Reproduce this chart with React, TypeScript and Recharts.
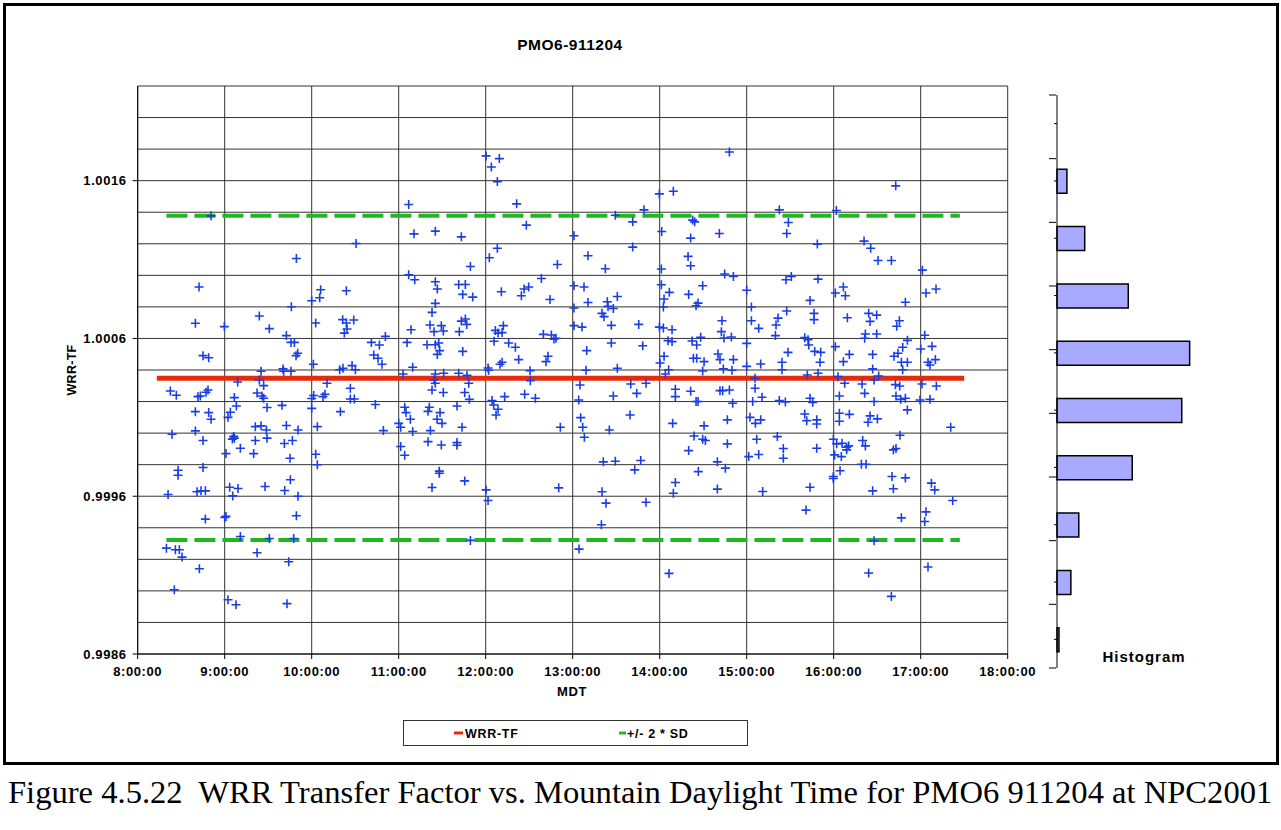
import React from 'react';
import { ComposedChart, Scatter, Line, XAxis, YAxis, CartesianGrid, BarChart, Bar } from 'recharts';

// axis layout
const hourTicks = [8, 9, 10, 11, 12, 13, 14, 15, 16, 17, 18];
const wrrTicks = [0.9986, 0.9996, 1.0006, 1.0016];
const wrrGridLines = [
  0.9986, 0.9988, 0.999, 0.9992, 0.9994, 0.9996, 0.9998, 1.0, 1.0002, 1.0004,
  1.0006, 1.0008, 1.001, 1.0012, 1.0014, 1.0016, 1.0018, 1.002, 1.0022,
];

// run mean and the +/- 2 SD band
const meanTrace = [{ t: 8.22, v: 1.000347 }, { t: 17.5, v: 1.000347 }];
const upperTrace = [{ t: 8.33, v: 1.001378 }, { t: 17.45, v: 1.001378 }];
const lowerTrace = [{ t: 8.33, v: 0.999322 }, { t: 17.45, v: 0.999322 }];

// histogram of the transfer factor (top bin first)
const histBins = ['1.0019', '1.0016', '1.0012', '1.0009', '1.0005', '1.0001', '0.9998', '0.9994', '0.9991', '0.9987'];
const histCounts = [0, 5, 14, 36, 67, 63, 38, 11, 7, 1];
const histEdges = [0, 1, 2, 3, 4, 5, 6, 7, 8, 9, 10];

// individual WRR-TF readings: [hour of day MDT, WRR-TF]
const samples: [number, number][] = [
  [8.843, 1.001377], [9.824, 1.001107], [8.705, 1.000926], [10.103, 1.000909], [10.398, 1.000902], [10.092, 1.000858],
  [10.0, 1.000839], [9.766, 1.000801], [9.398, 1.000742], [8.663, 1.000696], [8.996, 1.000675], [9.513, 1.000662],
  [10.046, 1.000698], [10.356, 1.000719], [10.398, 1.000698], [10.483, 1.000717], [10.406, 1.00066], [10.375, 1.000634],
  [9.709, 1.000618], [9.762, 1.000575], [9.801, 1.000575], [9.839, 1.000506], [9.82, 1.000491], [8.751, 1.000491],
  [8.816, 1.000478], [10.019, 1.000436], [9.418, 1.000392], [9.67, 1.000407], [9.678, 1.000392], [9.762, 1.000392],
  [10.322, 1.000402], [10.36, 1.000411], [10.464, 1.000428], [10.502, 1.000402], [10.51, 1.001202],
  [9.149, 1.000324], [9.398, 1.000337], [9.448, 1.000301], [10.176, 1.000316], [10.444, 1.000284], [8.375, 1.000267],
  [8.444, 1.00024], [8.693, 1.000231], [8.72, 1.000235], [8.785, 1.000259], [8.808, 1.000273], [9.111, 1.000225],
  [9.372, 1.000254], [9.429, 1.000235], [9.448, 1.000221], [10.0, 1.000219], [10.023, 1.000238], [10.13, 1.000231],
  [10.153, 1.000246], [10.444, 1.000216], [10.49, 1.000216], [8.663, 1.000136], [8.816, 1.00013], [8.843, 1.000088],
  [9.134, 1.000172], [9.065, 1.000132], [9.038, 1.0001], [9.487, 1.000162], [9.659, 1.000176], [10.0, 1.000157],
  [10.33, 1.000136], [8.395, 0.999993], [8.663, 1.000014], [8.751, 0.999953], [9.103, 0.999979], [9.088, 0.999962],
  [9.111, 0.999968], [9.352, 1.000041], [9.418, 1.000046], [9.479, 1.00002], [9.352, 0.999953], [9.487, 0.999968],
  [9.709, 1.000048], [9.843, 1.00002], [9.686, 0.999934], [9.778, 0.999953], [10.065, 1.000041], [9.18, 0.999904],
  [9.015, 0.99987], [9.333, 0.99987], [9.751, 0.999841], [10.046, 0.999866], [10.065, 0.999799], [8.464, 0.999765],
  [8.464, 0.999733], [8.751, 0.999782], [8.349, 0.999611], [8.682, 0.999628], [8.728, 0.999634], [8.778, 0.999634],
  [9.057, 0.999657], [9.153, 0.999649], [9.092, 0.999602], [9.464, 0.999662], [9.755, 0.999704], [9.69, 0.999636],
  [9.843, 0.9996], [8.778, 0.999455], [9.0, 0.999465], [9.015, 0.999472], [9.824, 0.999476], [9.18, 0.999345],
  [9.513, 0.999332], [9.793, 0.999332], [8.33, 0.999271], [8.433, 0.999261], [8.479, 0.999261], [8.51, 0.999214],
  [9.372, 0.999242], [9.736, 0.999185], [8.709, 0.99914], [8.421, 0.999007], [9.038, 0.998944], [9.13, 0.998912],
  [9.716, 0.998919],
  [12.004, 1.001757], [12.157, 1.00174], [12.065, 1.001687], [12.134, 1.001594], [11.115, 1.001449], [12.356, 1.001453],
  [12.467, 1.001318], [11.176, 1.001263], [11.421, 1.00128], [11.72, 1.001244], [12.134, 1.001172], [12.042, 1.001111],
  [11.824, 1.001056], [12.824, 1.001069], [11.115, 1.001004], [11.184, 1.000972], [11.421, 1.000959], [11.444, 1.000913],
  [11.69, 1.000942], [11.766, 1.000942], [11.736, 1.000879], [11.851, 1.000862], [12.18, 1.000896], [12.41, 1.000871],
  [12.441, 1.000913], [12.494, 1.000926], [12.64, 1.00098], [12.739, 1.000847], [11.421, 1.000822], [11.383, 1.000765],
  [11.142, 1.000655], [11.36, 1.000685], [11.406, 1.000643], [11.49, 1.000681], [11.513, 1.000647], [11.697, 1.000643],
  [11.72, 1.00071], [11.766, 1.000723], [11.782, 1.000689], [10.847, 1.000613], [10.686, 1.000575], [10.778, 1.000558],
  [10.713, 1.000495], [10.762, 1.000474], [10.808, 1.000436], [11.096, 1.000575], [11.326, 1.00056], [11.421, 1.00056],
  [11.46, 1.000571], [11.444, 1.000499], [11.471, 1.000523], [11.736, 1.000518], [12.111, 1.000651], [12.203, 1.000681],
  [12.142, 1.000634], [12.188, 1.000637], [12.096, 1.000582], [12.264, 1.000571], [12.341, 1.000544], [12.663, 1.000626],
  [12.755, 1.000622], [12.785, 1.000596], [12.808, 1.000601], [12.716, 1.000487], [12.693, 1.000453], [12.379, 1.000466],
  [12.188, 1.000449], [12.165, 1.000436], [12.027, 1.000413], [11.161, 1.000417], [12.51, 1.000396],
  [11.05, 1.000375], [11.421, 1.000375], [11.517, 1.000379], [11.69, 1.000379], [11.785, 1.000366], [12.034, 1.000398],
  [11.406, 1.000337], [11.421, 1.000316], [11.805, 1.000316], [12.513, 1.000332], [11.383, 1.000273], [11.513, 1.000257],
  [11.759, 1.000257], [11.812, 1.000214], [10.732, 1.000181], [11.069, 1.000164], [11.084, 1.00013], [11.134, 1.000088],
  [11.0, 1.000062], [11.023, 1.000037], [11.337, 1.000138], [11.352, 1.000164], [11.475, 1.00013], [11.441, 1.000088],
  [11.498, 1.000062], [11.67, 1.000172], [12.073, 1.000206], [12.092, 1.000178], [12.142, 1.000151], [12.119, 1.000115],
  [12.218, 1.000231], [12.448, 1.000246], [12.571, 1.000221], [10.824, 1.000016], [11.161, 1.00001], [11.364, 1.000016],
  [11.728, 1.000037], [12.858, 1.000037], [11.023, 0.999915], [11.069, 0.99986], [11.337, 0.999946], [11.49, 0.999925],
  [11.67, 0.99994], [11.67, 0.999923], [11.467, 0.999759], [11.467, 0.999746], [11.759, 0.999697], [11.383, 0.999655],
  [12.004, 0.99964], [12.027, 0.999573], [12.839, 0.999653], [11.824, 0.99932],
  [14.801, 1.001782], [13.996, 1.001516], [14.157, 1.001533], [13.82, 1.001415], [15.375, 1.001415], [13.49, 1.001381],
  [13.69, 1.001339], [14.379, 1.00135], [14.402, 1.001339], [13.015, 1.001251], [14.023, 1.001278], [14.356, 1.001236],
  [14.686, 1.001265], [15.46, 1.001265], [15.479, 1.001335], [13.176, 1.001124], [13.69, 1.001179], [14.326, 1.00112],
  [14.356, 1.001061], [13.375, 1.001042], [14.019, 1.00104], [14.747, 1.001008], [14.847, 1.000993], [15.452, 1.000972],
  [13.015, 1.000934], [13.13, 1.000926], [14.019, 1.00094], [14.111, 1.000892], [14.494, 1.000934], [14.333, 1.000879],
  [15.0, 1.000905], [13.176, 1.000828], [13.398, 1.000833], [13.513, 1.000866], [14.05, 1.00085], [14.042, 1.000799],
  [14.441, 1.000824], [14.418, 1.000807], [13.015, 1.000793], [13.337, 1.000759], [13.36, 1.000738], [13.406, 1.000803],
  [13.467, 1.00079], [15.054, 1.000799], [15.46, 1.000774], [13.015, 1.000681], [13.107, 1.000672], [13.444, 1.000683],
  [13.759, 1.000689], [13.996, 1.000672], [14.042, 1.000666], [14.142, 1.000655], [14.716, 1.000712], [15.054, 1.000712],
  [15.138, 1.000664], [15.337, 1.000685], [15.36, 1.000729], [14.709, 1.000643], [14.739, 1.000603], [14.824, 1.000609],
  [14.471, 1.000607], [15.0, 1.000569], [13.161, 1.000523], [13.444, 1.000571], [13.805, 1.000554], [14.096, 1.000586],
  [14.142, 1.00058], [14.372, 1.000584], [14.425, 1.000558], [15.33, 1.000618], [15.475, 1.000512], [14.05, 1.000487],
  [14.004, 1.000444], [14.387, 1.000474], [14.425, 1.000474], [14.51, 1.000453], [14.67, 1.000501], [14.693, 1.000466],
  [14.847, 1.000466], [15.161, 1.000438], [15.406, 1.000449], [13.153, 1.000398], [13.513, 1.000411], [14.103, 1.000402],
  [14.494, 1.000394], [14.732, 1.000407], [14.831, 1.000398], [15.0, 1.000423], [15.406, 1.000402],
  [14.065, 1.000375], [13.084, 1.000305], [13.667, 1.000311], [13.843, 1.000316], [13.736, 1.000252], [13.467, 1.000235],
  [14.18, 1.000278], [14.18, 1.000231], [14.356, 1.000265], [14.418, 1.0002], [14.441, 1.0002], [14.693, 1.000269],
  [14.724, 1.000269], [14.801, 1.000273], [14.839, 1.000189], [13.069, 1.00021], [15.096, 1.000284], [15.096, 1.000347],
  [15.069, 1.0002], [15.176, 1.000227], [15.375, 1.000206], [15.444, 1.000197], [13.092, 1.000098], [13.115, 1.000037],
  [13.134, 0.999974], [13.421, 1.00002], [13.659, 1.000115], [14.149, 1.000062], [14.51, 1.000046], [14.395, 0.999982],
  [14.494, 0.999961], [14.525, 0.999953], [14.778, 1.000084], [14.778, 0.999932], [15.038, 1.0001], [15.161, 1.000084],
  [15.1, 1.000062], [15.115, 0.999961], [15.352, 0.999978], [14.333, 0.999889], [14.663, 0.999818], [14.755, 0.999778],
  [14.444, 0.999756], [15.023, 0.999851], [15.138, 0.999864], [15.421, 0.999902], [15.421, 0.999841], [13.352, 0.999818],
  [13.49, 0.999822], [13.782, 0.999826], [13.713, 0.999767], [14.18, 0.999687], [14.157, 0.999619], [14.663, 0.999645],
  [15.184, 0.99963], [13.337, 0.999628], [13.383, 0.999556], [13.843, 0.999562], [13.33, 0.999419], [13.073, 0.999265],
  [14.107, 0.999111],
  [16.713, 1.001567], [16.031, 1.001411], [15.812, 1.001198], [16.349, 1.001217], [16.425, 1.001172], [16.51, 1.001094],
  [16.663, 1.001094], [17.019, 1.001033], [15.513, 1.000993], [15.82, 1.000976], [16.111, 1.000926], [16.019, 1.000888],
  [16.134, 1.000871], [17.061, 1.000888], [17.176, 1.000913], [16.824, 1.000829], [15.728, 1.000841], [15.774, 1.000759],
  [15.774, 1.000719], [16.157, 1.000731], [16.402, 1.000759], [16.494, 1.000748], [16.418, 1.000708], [16.755, 1.000712],
  [16.724, 1.000677], [17.046, 1.00062], [17.13, 1.00055], [17.0, 1.000533], [15.667, 1.000605], [15.705, 1.000592],
  [15.713, 1.000558], [15.782, 1.000518], [15.851, 1.000512], [15.843, 1.000449], [16.364, 1.000628], [16.356, 1.000601],
  [16.494, 1.000628], [16.019, 1.000548], [16.18, 1.000499], [16.111, 1.000453], [16.448, 1.000499], [16.693, 1.000487],
  [16.739, 1.000506], [16.793, 1.000544], [16.847, 1.000588], [16.778, 1.000449], [16.847, 1.000449], [17.084, 1.000449],
  [17.169, 1.000466], [17.107, 1.000432], [16.448, 1.000407], [16.793, 1.000402],
  [15.697, 1.000368], [15.82, 1.000379], [16.05, 1.000358], [16.517, 1.000362], [16.126, 1.000316], [16.326, 1.000311],
  [16.464, 1.000337], [16.709, 1.000307], [16.759, 1.000299], [17.015, 1.000311], [17.18, 1.000299], [15.728, 1.000221],
  [15.759, 1.000195], [16.065, 1.000235], [16.356, 1.000252], [16.464, 1.0002], [16.716, 1.000235], [16.77, 1.000214],
  [16.824, 1.000221], [16.992, 1.00021], [17.107, 1.000214], [15.667, 1.000121], [15.69, 1.000079], [15.805, 1.000084],
  [15.805, 1.000058], [16.065, 1.000126], [16.065, 1.000075], [16.18, 1.000119], [16.418, 1.000109], [16.395, 1.000069],
  [16.502, 1.00009], [16.847, 1.000147], [17.345, 1.000037], [15.805, 0.999904], [15.996, 0.999961], [16.034, 0.999932],
  [16.096, 0.999936], [16.149, 0.99991], [16.172, 0.999919], [16.149, 0.999894], [16.011, 0.999862], [16.088, 0.999851],
  [16.333, 0.999953], [16.364, 0.999919], [16.762, 0.999986], [16.686, 0.999894], [16.716, 0.999902], [16.318, 0.999803],
  [16.372, 0.999803], [15.996, 0.999725], [15.996, 0.999712], [16.073, 0.999761], [16.67, 0.999725], [16.824, 0.999716],
  [15.728, 0.999657], [16.448, 0.999634], [16.686, 0.999647], [17.123, 0.999683], [17.161, 0.99964], [17.368, 0.999573],
  [15.682, 0.999512], [16.778, 0.999463], [17.061, 0.999501], [17.046, 0.99944], [16.464, 0.999318], [16.402, 0.999113],
  [17.084, 0.999151], [16.663, 0.998965],
];

const sampleData = samples.map(([t, v]) => ({ t, v }));
const histData = histBins.map((bin, i) => ({ bin, count: histCounts[i] }));

const FONT = '"Liberation Sans", Arial, sans-serif';
const tickStyle = { fill: '#000', fontSize: 13, fontWeight: 700, fontFamily: FONT, letterSpacing: 0.6 };
const blankTick = { fill: 'none', fontSize: 1 };
const noLabel = () => '';

const PlusMark = (props: any) => {
  const { cx, cy } = props;
  if (cx == null || cy == null) return <g />;
  return (
    <path
      d={`M${cx - 4.5},${cy}H${cx + 4.5}M${cx},${cy - 4.5}V${cy + 4.5}`}
      stroke="#1a3ee6"
      strokeWidth={1.6}
      fill="none"
    />
  );
};

const fmtHour = (h: number) => `${h}:00:00`;
const fmtWrr = (v: number) => v.toFixed(4);

export default function App() {
  return (
    <div style={{ position: 'absolute', left: 0, top: 0, width: 1281, height: 830, background: '#fff', fontFamily: FONT }}>
      {/* frame around the chart */}
      <div style={{ position: 'absolute', left: 3, top: 3, width: 1270, height: 756, border: '3px solid #000' }} />

      <div style={{ position: 'absolute', left: 0, top: 0 }}>
        <ComposedChart width={1045} height={720} margin={{ top: 86, right: 37.3, bottom: 36, left: 77.7 }}>
          <CartesianGrid
            stroke="#333"
            strokeWidth={1}
            horizontalValues={wrrGridLines}
            verticalValues={hourTicks}
          />
          <XAxis
            type="number"
            dataKey="t"
            domain={[8, 18]}
            ticks={hourTicks}
            tickFormatter={fmtHour}
            allowDataOverflow
            height={30}
            tickSize={5}
            tickMargin={8}
            axisLine={{ stroke: '#000' }}
            tickLine={{ stroke: '#000' }}
            tick={tickStyle}
            interval={0}
          />
          <YAxis
            type="number"
            dataKey="v"
            domain={[0.9986, 1.0022]}
            ticks={wrrTicks}
            tickFormatter={fmtWrr}
            allowDataOverflow
            width={60}
            tickSize={5}
            tickMargin={6}
            axisLine={{ stroke: '#000' }}
            tickLine={{ stroke: '#000' }}
            tick={tickStyle}
            interval={0}
          />
          <Line data={meanTrace} dataKey="v" stroke="#e42b0c" strokeWidth={5} dot={false} activeDot={false} isAnimationActive={false} />
          <Line data={upperTrace} dataKey="v" stroke="#1fb81f" strokeWidth={4} strokeDasharray="21 7" dot={false} activeDot={false} isAnimationActive={false} />
          <Line data={lowerTrace} dataKey="v" stroke="#1fb81f" strokeWidth={4} strokeDasharray="21 7" dot={false} activeDot={false} isAnimationActive={false} />
          <Scatter data={sampleData} dataKey="v" shape={PlusMark} isAnimationActive={false} />
        </ComposedChart>
      </div>

      <div style={{ position: 'absolute', left: 1000, top: 80 }}>
        <BarChart
          width={260}
          height={600}
          layout="vertical"
          data={histData}
          margin={{ top: 15, right: 5, bottom: 12, left: 55 }}
        >
          <XAxis type="number" domain={[0, 100]} hide />
          <YAxis
            yAxisId="bins"
            type="category"
            dataKey="bin"
            width={1}
            tickSize={3}
            axisLine={{ stroke: '#000' }}
            tickLine={{ stroke: '#000' }}
            tick={blankTick}
            tickFormatter={noLabel}
            interval={0}
          />
          <YAxis
            yAxisId="edges"
            type="number"
            domain={[0, 10]}
            ticks={histEdges}
            width={1}
            tickSize={7}
            axisLine={false}
            tickLine={{ stroke: '#000' }}
            tick={blankTick}
            tickFormatter={noLabel}
            interval={0}
          />
          <Bar yAxisId="bins" dataKey="count" barSize={24} fill="#a8aaff" stroke="#000" strokeWidth={1.5} isAnimationActive={false} />
        </BarChart>
      </div>

      <svg width={1281} height={830} style={{ position: 'absolute', left: 0, top: 0, pointerEvents: 'none' }}>
        <g fontFamily={FONT} fontWeight={700} fill="#000">
          <text x={570} y={50} textAnchor="middle" fontSize={15.5} letterSpacing={0.5}>PMO6-911204</text>
          <text x={76} y={370} textAnchor="middle" fontSize={12.5} letterSpacing={0.3} transform="rotate(-90 76 370)">WRR-TF</text>
          <text x={572} y={696} textAnchor="middle" fontSize={13} letterSpacing={0.6}>MDT</text>
          <text x={1144} y={662} textAnchor="middle" fontSize={15} letterSpacing={1}>Histogram</text>

          {/* legend */}
          <rect x={403.5} y={720.5} width={344} height={25} fill="#fff" stroke="#333" strokeWidth={1} />
          <line x1={454} y1={733} x2={463} y2={733} stroke="#e42b0c" strokeWidth={3} />
          <text x={465} y={738} fontSize={12.5} letterSpacing={0.7}>WRR-TF</text>
          <line x1={619} y1={733} x2={626} y2={733} stroke="#1fb81f" strokeWidth={3} />
          <text x={627} y={738} fontSize={12.5} letterSpacing={0.7}>+/- 2 * SD</text>
        </g>
        <text
          x={8}
          y={803}
          fontFamily='"Liberation Serif", "Times New Roman", serif'
          fontSize={32.6}
          xmlSpace="preserve"
          style={{ whiteSpace: 'pre' }}
        >
          Figure 4.5.22  WRR Transfer Factor vs. Mountain Daylight Time for PMO6 911204 at NPC2001
        </text>
      </svg>
    </div>
  );
}
